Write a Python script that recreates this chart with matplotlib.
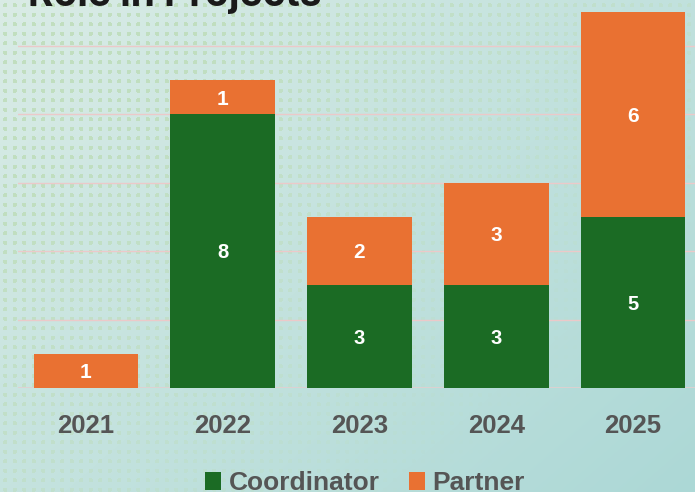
import numpy as np
import matplotlib
matplotlib.use("Agg")
import matplotlib.pyplot as plt
from matplotlib.patches import Patch

years = ["2021", "2022", "2023", "2024", "2025"]
coordinator = [0, 8, 3, 3, 5]
partner = [1, 1, 2, 3, 6]
series_names = ["Coordinator", "Partner"]
title = "Role in Projects"

GREEN = "#1b6b24"
ORANGE = "#e97132"
TXT = "#555555"

W, H = 695, 492
fig = plt.figure(figsize=(W / 100, H / 100), dpi=100)

# --- decorative background (gradient + dot grid) ---
yy, xx = np.mgrid[0:H, 0:W]
t = np.clip((xx / W) * 0.55 + (yy / H) * 0.45, 0, 1)
c0 = np.array([218, 236, 230]) / 255
c1 = np.array([172, 216, 214]) / 255
img = c0[None, None, :] * (1 - t[..., None]) + c1[None, None, :] * t[..., None]
dot = (((xx % 9.5) - 4.75) ** 2 + ((yy % 9.5) - 4.75) ** 2) < 5
fade = np.clip(1.3 - t * 1.6, 0, 1)
dotc = np.array([188, 220, 182]) / 255
mix = (dot * fade * 0.8)[..., None]
img = img * (1 - mix) + dotc[None, None, :] * mix
bg = fig.add_axes([0, 0, 1, 1], zorder=-10)
bg.imshow(img, aspect="auto", extent=(0, 1, 0, 1), origin="upper")
bg.set_axis_off()

# --- main axes ---
unit = 34.2
base = 104
left = 17.6
step = 136.75
ax = fig.add_axes([left / W, base / H, 5 * step / W, (H - base) / H])
ax.patch.set_alpha(0)
x = np.arange(len(years))
ax.bar(x, coordinator, width=0.765, color=GREEN, zorder=3)
ax.bar(x, partner, bottom=coordinator, width=0.765, color=ORANGE, zorder=3)
for i in range(len(years)):
    if coordinator[i] > 0:
        ax.text(x[i], coordinator[i] / 2 - 0.05, str(coordinator[i]), ha="center", va="center",
                color="white", fontsize=14.5, fontweight="bold", family="Liberation Sans", zorder=4)
    if partner[i] > 0:
        ax.text(x[i], coordinator[i] + partner[i] / 2 - 0.05, str(partner[i]), ha="center", va="center",
                color="white", fontsize=15, fontweight="bold", family="Liberation Sans", zorder=4)

ax.set_xlim(-0.5, 4.5)
ax.set_ylim(0, (H - base) / unit)
ax.set_yticks([2, 4, 6, 8, 10])
ax.yaxis.grid(True, color="#ecc9c9", linewidth=1, zorder=0)
ax.axhline(0, color="#e2cfcf", linewidth=1.2, zorder=2)
ax.tick_params(axis="y", left=False, labelleft=False)
ax.tick_params(axis="x", bottom=False, pad=15.5)
ax.set_xticks(x)
ax.set_xticklabels(years, fontsize=18.5, fontweight="bold", color=TXT, family="Liberation Sans")
for s in ax.spines.values():
    s.set_visible(False)

handles = [Patch(facecolor=GREEN), Patch(facecolor=ORANGE)]
leg = fig.legend(handles, series_names, loc="lower center", bbox_to_anchor=(0.525, -0.055),
                 ncol=2, frameon=False, handlelength=0.6, handleheight=0.62, handletextpad=0.3,
                 columnspacing=1.1, prop={"family": "Liberation Sans", "weight": "bold", "size": 19})
for txt in leg.get_texts():
    txt.set_color(TXT)

fig.text(28 / W, (H - 6) / H, title, ha="left", va="baseline", fontsize=28,
         fontweight="bold", color="#1a1a1a", family="Inter")

fig.savefig("out.png", dpi=100)
